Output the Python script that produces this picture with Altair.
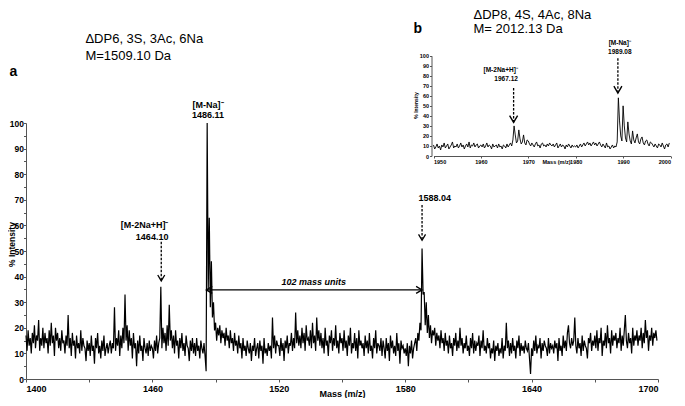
import altair as alt
import pandas as pd

FONT = "Liberation Sans"

# ---------------- main spectrum (a): m/z 1400..1699.5, sampled every 0.5 ----------------
main_start = 1400.0
main_step = 0.5
main_intensity = [
    17, 11, 19, 13, 16, 10, 18, 14, 21, 12, 17, 15, 23, 11, 16, 13, 20, 12, 18, 14,   # 1400
    16, 10, 19, 13, 22, 14, 17, 9, 20, 15, 18, 12, 16, 11, 19, 14, 15, 10, 17, 13,    # 1410
    25, 12, 16, 9, 18, 13, 15, 8, 17, 12, 14, 10, 19, 11, 16, 13, 12, 7, 15, 11,      # 1420
    14, 9, 17, 11, 13, 6, 16, 12, 18, 10, 13, 8, 15, 11, 17, 9, 12, 14, 10, 13,       # 1430
    15, 10, 14, 12, 28, 11, 16, 13, 19, 9, 17, 12, 20, 14, 33, 15, 21, 11, 19, 13,    # 1440
    16, 8, 18, 12, 14, 5, 15, 10, 17, 11, 13, 7, 16, 12, 10, 14, 9, 15, 11, 13,       # 1450
    12, 8, 15, 11, 17, 10, 14, 16, 36, 12, 20, 14, 18, 11, 21, 13, 29, 15, 19, 12,    # 1460
    17, 10, 19, 13, 15, 8, 16, 12, 18, 11, 14, 9, 17, 13, 12, 7, 15, 11, 16, 10,      # 1470
    14, 9, 16, 11, 13, 8, 15, 12, 10, 14, 9, 3, 100, 35, 63, 28, 46, 24, 30, 19,      # 1480
    22, 15, 20, 17, 21, 14, 19, 16, 18, 13, 20, 15, 17, 12, 19, 14, 16, 11, 18, 13,   # 1490
    15, 10, 17, 12, 14, 8, 16, 11, 13, 9, 15, 12, 10, 14, 7, 13, 11, 16, 9, 12,       # 1500
    14, 8, 15, 11, 13, 6, 16, 10, 12, 9, 14, 11, 13, 8, 24, 12, 17, 10, 15, 13,       # 1510
    13, 9, 16, 11, 14, 7, 15, 12, 17, 10, 14, 13, 18, 11, 16, 12, 26, 14, 19, 13,     # 1520
    17, 12, 20, 14, 18, 11, 21, 15, 16, 13, 19, 12, 22, 14, 17, 11, 24, 15, 19, 13,   # 1530
    18, 12, 16, 10, 20, 13, 15, 9, 17, 14, 19, 11, 16, 13, 21, 12, 15, 10, 18, 14,    # 1540
    16, 11, 19, 12, 15, 9, 17, 13, 20, 10, 14, 12, 18, 11, 16, 8, 19, 13, 15, 12,     # 1550
    14, 9, 17, 12, 15, 10, 18, 11, 13, 8, 16, 12, 19, 10, 14, 13, 11, 16, 9, 15,      # 1560
    12, 8, 16, 11, 14, 7, 17, 12, 15, 10, 13, 9, 18, 11, 14, 6, 15, 12, 13, 10,       # 1570
    12, 9, 14, 5, 13, 10, 15, 8, 12, 14, 16, 11, 18, 15, 22, 19, 51, 33, 34, 21,      # 1580
    30, 18, 25, 16, 21, 14, 19, 17, 20, 13, 18, 15, 17, 12, 19, 14, 16, 11, 18, 13,   # 1590
    15, 10, 17, 12, 14, 9, 16, 13, 18, 11, 15, 12, 20, 13, 16, 10, 14, 12, 17, 11,    # 1600
    13, 9, 16, 12, 18, 10, 15, 11, 14, 13, 17, 9, 15, 12, 19, 11, 13, 10, 16, 12,     # 1610
    14, 8, 12, 10, 15, 7, 13, 11, 14, 9, 12, 10, 16, 8, 13, 11, 22, 12, 15, 9,        # 1620
    14, 10, 16, 11, 13, 8, 15, 12, 17, 9, 14, 11, 13, 10, 15, 12, 11, 14, 8, 2,       # 1630
    12, 9, 15, 11, 17, 10, 13, 12, 16, 8, 14, 11, 15, 13, 12, 9, 16, 10, 14, 12,      # 1640
    13, 10, 15, 12, 14, 7, 16, 11, 13, 9, 17, 12, 15, 11, 18, 21, 14, 12, 16, 13,     # 1650
    15, 24, 13, 10, 16, 12, 14, 9, 17, 11, 15, 13, 12, 8, 16, 14, 18, 11, 15, 13,     # 1660
    17, 12, 19, 11, 16, 14, 20, 9, 15, 13, 18, 12, 21, 14, 16, 10, 19, 13, 17, 15,    # 1670
    18, 12, 16, 14, 20, 11, 17, 13, 19, 25, 15, 12, 18, 14, 16, 10, 20, 13, 17, 15,   # 1680
    19, 13, 17, 15, 20, 12, 18, 14, 23, 16, 19, 11, 17, 15, 20, 13, 18, 16, 19, 15,   # 1690
]

# ---------------- inset spectrum (b): m/z 1950..1999.75, sampled every 0.25 ----------------
inset_start = 1950.0
inset_step = 0.25
inset_intensity = [
    11, 7, 9, 12, 8, 10, 6, 11, 9, 13, 8, 10, 12, 7, 9, 11, 14, 8, 10, 9,        # 1950
    12, 8, 10, 13, 9, 11, 7, 10, 12, 9, 14, 8, 11, 10, 13, 9, 11, 12, 8, 10,     # 1955
    11, 9, 12, 8, 10, 13, 9, 11, 10, 7, 12, 9, 10, 11, 8, 12, 9, 10, 7, 11,      # 1960
    10, 8, 12, 9, 11, 13, 10, 16, 30, 21, 13, 15, 26, 17, 12, 14, 21, 13, 11, 16,  # 1965
    15, 12, 10, 13, 11, 9, 12, 14, 10, 11, 8, 12, 13, 10, 11, 9, 12, 10, 13, 11,   # 1970
    10, 12, 9, 11, 13, 8, 10, 12, 9, 11, 10, 7, 11, 9, 12, 10, 8, 11, 9, 10,       # 1975
    9, 11, 8, 10, 12, 9, 11, 13, 10, 12, 14, 11, 13, 10, 12, 14, 11, 13, 10, 12,   # 1980
    14, 11, 9, 12, 10, 8, 13, 9, 10, 7, 9, 11, 8, 10, 9, 14, 58, 35, 20, 15,       # 1985
    50, 30, 18, 14, 34, 22, 15, 12, 25, 16, 13, 18, 22, 14, 12, 17, 19, 13, 11, 15,  # 1990
    16, 12, 10, 14, 13, 11, 9, 12, 10, 8, 12, 11, 9, 13, 10, 7, 11, 12, 9, 13,     # 1995
]

# ---------------- annotation texts ----------------
main_center_text = ["[M-Na]\u207b", "1486.11"]
main_center_x = [1486.4, 1486.4]
main_center_y = [107.0, 103.1]

main_right_text = ["[M-2Na+H]\u207b", "1464.10"]
main_right_x = [1467.6, 1467.6]
main_right_y = [60.2, 55.5]

main_left_text = ["1588.04"]
main_left_x = [1586.3]
main_left_y = [70.7]

span_text = ["102 mass units"]
span_x = [1536.6]
span_y = [38.0]

title_text = ["\u0394DP6, 3S, 3Ac, 6Na", "M=1509.10 Da", "\u0394DP8, 4S, 4Ac, 8Na", "M= 2012.13 Da"]
title_x = [1428.2, 1428.2, 1612.4, 1612.4]
title_y = [132.7, 126.2, 142.2, 136.7]

panel_text = ["a", "b"]
panel_x = [1392.2, 1583.9]
panel_y = [120.0, 136.7]

# dashed arrows (main): x, top, tip
main_arrow_x = [1464.2, 1588.0]
main_arrow_top = [53.6, 68.0]
main_arrow_tip = [38.3, 54.2]

# 102 mass-unit span
span_from = [1485.6]
span_to = [1588.0]
span_level = [34.8]

# inset annotations
inset_right_text = ["[M-2Na+H]\u207b", "1967.12"]
inset_right_x = [1967.8, 1967.8]
inset_right_y = [85.7, 76.5]

inset_center_text = ["[M-Na]\u207b", "1989.08"]
inset_center_x = [1989.3, 1989.3]
inset_center_y = [113.0, 104.0]

inset_arrow_x = [1966.9, 1988.9]
inset_arrow_top = [67.8, 97.4]
inset_arrow_tip = [33.5, 62.8]

# ---------------- data frames ----------------
main_df = pd.DataFrame({
    "mass": [main_start + main_step * i for i in range(len(main_intensity))],
    "intensity": main_intensity,
})
inset_df = pd.DataFrame({
    "mass": [inset_start + inset_step * i for i in range(len(inset_intensity))],
    "intensity": inset_intensity,
})

def tdf(texts, xs, ys):
    return pd.DataFrame({"label": texts, "mass": xs, "intensity": ys})

# ---------------- scales & axes ----------------
xs = alt.Scale(domain=[1400, 1700], nice=False, zero=False)
ys = alt.Scale(domain=[0, 100], nice=False, zero=False)

AX_COL = "#555555"
x_axis = alt.Axis(
    title="Mass (m/z)", values=list(range(1400, 1701, 30)), format="d",
    labelExpr="datum.value % 60 == 20 ? datum.label : ''",
    labelFont=FONT, labelFontSize=9, labelFontWeight="bold", labelColor="black",
    labelPadding=2, labelOverlap=False, tickSize=3, tickColor=AX_COL, domainColor=AX_COL,
    titleFont=FONT, titleFontSize=9, titleFontWeight="bold", titleColor="black",
    titleY=19, titleBaseline="bottom", grid=False, orient="bottom",
)
y_axis = alt.Axis(
    title="% Intensity", values=list(range(0, 101, 5)),
    labelExpr="datum.value % 10 == 0 ? datum.label : ''",
    labelFont=FONT, labelFontSize=8.5, labelFontWeight="bold", labelColor="black",
    labelPadding=0, labelOverlap=False, tickSize=2.5, tickColor=AX_COL, domainColor=AX_COL,
    titleFont=FONT, titleFontSize=8.5, titleFontWeight="bold", titleColor="black",
    titleAngle=270, titleX=-14.5, titleY=121, titleBaseline="middle", titleAlign="center",
    grid=False, orient="left",
)

X = alt.X("mass:Q", scale=xs, axis=x_axis)
Y = alt.Y("intensity:Q", scale=ys, axis=y_axis)

def text_layer(df, align, size=9, weight="bold", style="normal"):
    return alt.Chart(df).mark_text(
        align=align, baseline="middle", font=FONT, fontSize=size,
        fontWeight=weight, fontStyle=style, color="black"
    ).encode(x=X, y=Y, text="label:N")

DOWN = "M-1,-1.7L0,0L1,-1.7"
LEFT = "M1.7,-1L0,0L1.7,1"
RIGHT = "M-1.7,-1L0,0L-1.7,1"

spectrum = alt.Chart(main_df).mark_line(color="black", strokeWidth=1.2).encode(x=X, y=Y)

arrow_df = pd.DataFrame({"mass": main_arrow_x, "intensity": main_arrow_top, "tip": main_arrow_tip})
dashed = alt.Chart(arrow_df).mark_rule(color="black", strokeWidth=1.3, strokeDash=[2.5, 1.5]).encode(
    x=X, y=Y, y2=alt.Y2("tip:Q"))
heads = alt.Chart(pd.DataFrame({"mass": main_arrow_x, "intensity": main_arrow_tip})).mark_point(
    shape=DOWN, filled=False, stroke="black", strokeWidth=1.3, size=49, opacity=1).encode(x=X, y=Y)

span_df = pd.DataFrame({"mass": span_from, "mass2": span_to, "intensity": span_level})
span_rule = alt.Chart(span_df).mark_rule(color="black", strokeWidth=1.3).encode(
    x=X, x2=alt.X2("mass2:Q"), y=Y)
span_left = alt.Chart(pd.DataFrame({"mass": span_from, "intensity": span_level})).mark_point(
    shape=LEFT, filled=False, stroke="black", strokeWidth=1.3, size=49, opacity=1).encode(x=X, y=Y)
span_right = alt.Chart(pd.DataFrame({"mass": span_to, "intensity": span_level})).mark_point(
    shape=RIGHT, filled=False, stroke="black", strokeWidth=1.3, size=49, opacity=1).encode(x=X, y=Y)

main_layer = alt.layer(
    spectrum,
    dashed, heads, span_rule, span_left, span_right,
    text_layer(tdf(main_center_text, main_center_x, main_center_y), "center"),
    text_layer(tdf(main_right_text, main_right_x, main_right_y), "right"),
    text_layer(tdf(main_left_text, main_left_x, main_left_y), "left"),
    text_layer(tdf(span_text, span_x, span_y), "center", style="italic"),
    text_layer(tdf(title_text, title_x, title_y), "left", size=13, weight="normal"),
    text_layer(tdf(panel_text, panel_x, panel_y), "left", size=14, weight="bold"),
)

# ---------------- inset ----------------
xs_in = alt.Scale(domain=[1950, 2000], range=[407.5, 644.5], nice=False, zero=False)
ys_in = alt.Scale(domain=[0, 100], range=[33, -67.3], nice=False, zero=False)

x_axis_in = alt.Axis(
    orient="bottom", offset=-223, values=list(range(1950, 2001, 10)), format="d",
    labelFont=FONT, labelFontSize=5.5, labelFontWeight="bold", labelColor="black",
    labelPadding=1, labelOverlap=False, tickSize=2, tickColor=AX_COL, domainColor=AX_COL,
    title="Mass (m/z)", titleFont=FONT, titleFontSize=5.5, titleFontWeight="bold",
    titleColor="black", titleX=530, titleY=5, titleBaseline="middle", titleAlign="center",
    grid=False,
)
y_axis_in = alt.Axis(
    orient="left", offset=-405.5, values=list(range(0, 101, 10)),
    labelFont=FONT, labelFontSize=5.5, labelFontWeight="bold", labelColor="black",
    labelPadding=1, labelOverlap=False, tickSize=2, tickColor=AX_COL, domainColor=AX_COL,
    title="% Intensity", titleFont=FONT, titleFontSize=5, titleFontWeight="bold",
    titleColor="black", titleAngle=270, titleX=-16, titleY=-18, titleBaseline="middle",
    titleAlign="center", grid=False,
)
XI = alt.X("mass:Q", scale=xs_in, axis=x_axis_in)
YI = alt.Y("intensity:Q", scale=ys_in, axis=y_axis_in)

def text_layer_in(df, align):
    return alt.Chart(df).mark_text(
        align=align, baseline="middle", font=FONT, fontSize=6.5,
        fontWeight="bold", color="black"
    ).encode(x=XI, y=YI, text="label:N")

inset_line = alt.Chart(inset_df).mark_line(color="black", strokeWidth=0.9).encode(x=XI, y=YI)
inset_arrow_df = pd.DataFrame({"mass": inset_arrow_x, "intensity": inset_arrow_top, "tip": inset_arrow_tip})
inset_dashed = alt.Chart(inset_arrow_df).mark_rule(color="black", strokeWidth=1.3, strokeDash=[2.5, 1.5]).encode(
    x=XI, y=YI, y2=alt.Y2("tip:Q"))
inset_heads = alt.Chart(pd.DataFrame({"mass": inset_arrow_x, "intensity": inset_arrow_tip})).mark_point(
    shape=DOWN, filled=False, stroke="black", strokeWidth=1.4, size=64, opacity=1).encode(x=XI, y=YI)

inset_layer = alt.layer(
    inset_line, inset_dashed, inset_heads,
    text_layer_in(tdf(inset_right_text, inset_right_x, inset_right_y), "right"),
    text_layer_in(tdf(inset_center_text, inset_center_x, inset_center_y), "center"),
)

chart = alt.layer(main_layer, inset_layer).resolve_scale(
    x="independent", y="independent"
).properties(
    width=632, height=256,
    padding={"left": 18, "top": 115, "right": 19, "bottom": 19},
    autosize=alt.AutoSizeParams(type="none"),
    background="white",
).configure_view(stroke=None)

chart.save("out.html", embed_options={"renderer": "svg", "actions": False})
